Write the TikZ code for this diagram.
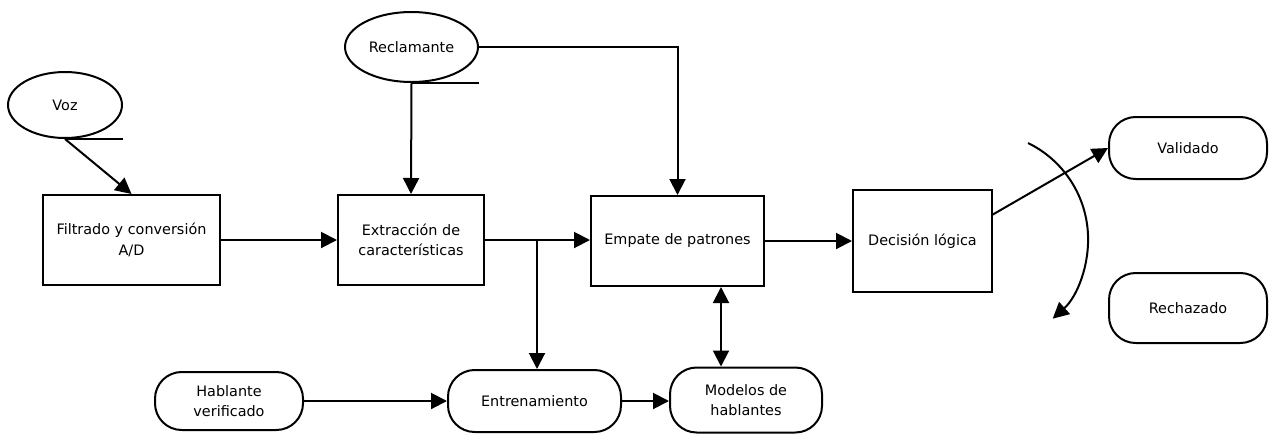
\documentclass[tikz,border=0pt]{standalone}
\usepackage{fontspec}
\setmainfont{DejaVu Sans}
\usepackage{tikz}
\usetikzlibrary{shapes.geometric}
\usetikzlibrary{arrows.meta}
\tikzstyle{proc_box}=[rectangle, draw=black, line width=1.5pt, align=center, inner sep=0pt, font=\fontsize{10.8}{15.5}\selectfont]
\tikzstyle{actor_oval}=[ellipse, draw=black, line width=1.5pt, inner sep=0pt, font=\fontsize{10.8}{15.5}\selectfont]
\tikzstyle{term_box}=[proc_box, rounded corners=20pt]
\tikzstyle{flow}=[line width=1.5pt, -{Triangle[length=12pt,width=12pt]}]
\tikzstyle{flow_both}=[line width=1.5pt, {Triangle[length=12pt,width=12pt]}-{Triangle[length=12pt,width=12pt]}]

\begin{document}
\begin{tikzpicture}[x=0.75pt, y=-0.75pt]
          \useasboundingbox (0,0) rectangle (1274,433);
          \node[actor_oval, minimum width=85.5pt, minimum height=49.5pt] (voz) at (65,105){Voz};
          \node[actor_oval, minimum width=99.75pt, minimum height=52.5pt] (rec) at (411.5,47){Reclamante};
          \node[proc_box, minimum width=132.75pt, minimum height=67.5pt] (filt) at (131.5,240){Filtrado y conversión\\A/D};
          \node[proc_box, minimum width=109.5pt, minimum height=67.5pt] (extr) at (411,240){Extracción de\\características};
          \node[proc_box, minimum width=129.75pt, minimum height=67.5pt] (emp) at (677.5,241){Empate de patrones};
          \node[proc_box, minimum width=104.25pt, minimum height=76.5pt] (dec) at (922.5,241){Decisión lógica};
          \node[term_box, minimum width=118.5pt, minimum height=46.5pt] (val) at (1188,148){Validado};
          \node[term_box, minimum width=118.5pt, minimum height=52.5pt] (rech) at (1188,308){Rechazado};
          \node[term_box, minimum width=111pt, minimum height=43.5pt] (habl) at (229,401){Hablante\\verificado};
          \node[term_box, minimum width=129.75pt, minimum height=46.5pt] (entr) at (534.5,401){Entrenamiento};
          \node[term_box, minimum width=114pt, minimum height=48.75pt] (mod) at (746,400){Modelos de\\hablantes};
          \coordinate (branch) at (537,240);
          \coordinate (decout) at (992,215);
          \coordinate (arcstart) at (1028,143);
          % underlines of the ovals
          \draw[line width=1.5pt] (voz.south) -- (voz.south -| voz.east);
          \draw[line width=1.5pt] (rec.south) -- (rec.south -| rec.east);
          \draw[flow] (voz.south) -- (filt.north);
          \draw[flow] (rec.south) -- (extr.north);
          \draw[flow] (rec.east) -| (emp.north);
          \draw[flow] (filt.east) -- (extr.west);
          \draw[flow] (extr.east) -- (extr.east -| emp.west);
          \draw[flow] (branch) -- (branch |- entr.north);
          \draw[flow] (emp.east) -- (emp.east -| dec.west);
          \draw[flow] (decout) -- (val.west);
          \draw[flow] (arcstart) arc[start angle=64, end angle=-48, radius=80.25pt];
          \draw[flow] (habl.east) -- (entr.west);
          \draw[flow] (entr.east) -- (entr.east -| mod.west);
          \draw[flow_both] ([xshift=-18.75pt]mod.north) -- ([xshift=-18.75pt]mod.north |- emp.south);
        \end{tikzpicture}
\end{document}
